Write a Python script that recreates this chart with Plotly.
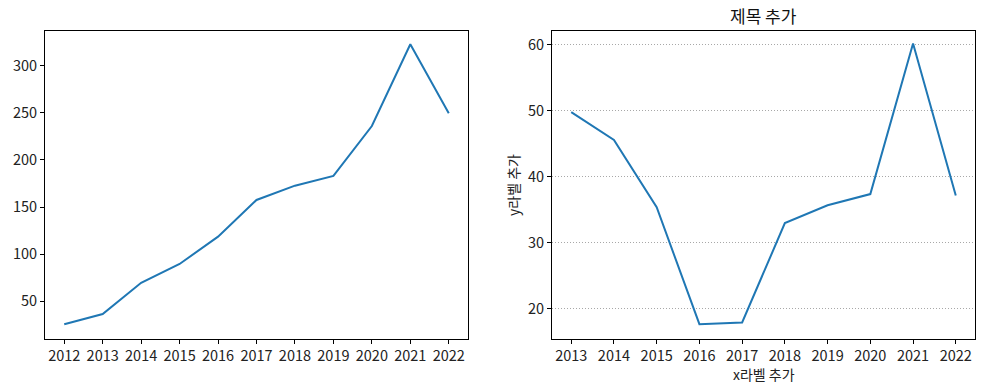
import plotly.graph_objects as go

years_left = [2012, 2013, 2014, 2015, 2016, 2017, 2018, 2019, 2020, 2021, 2022]
values_left = [25.6, 36.5, 69.7, 89.6, 118.6, 157.5, 172.7, 183.0, 236.0, 322.7, 249.5]

years_right = [2013, 2014, 2015, 2016, 2017, 2018, 2019, 2020, 2021, 2022]
values_right = [49.8, 45.6, 35.4, 17.7, 17.95, 33.0, 35.7, 37.4, 60.2, 37.2]

left_yticks = [50, 100, 150, 200, 250, 300]
right_yticks = [20, 30, 40, 50, 60]

title_text = "제목 추가"
xlabel_text = "x라벨 추가"
ylabel_text = "y라벨 추가"

FONT = "Noto Sans CJK KR"
LINE = "#1f77b4"
W, H = 984, 390
TICK_SIZE = 14.5

def px(x):
    return x / W

def py(y):
    return 1 - y / H

fig = go.Figure()
fig.add_trace(go.Scatter(x=years_left, y=values_left, mode="lines",
                         line=dict(color=LINE, width=2), xaxis="x", yaxis="y",
                         showlegend=False, hoverinfo="skip"))
fig.add_trace(go.Scatter(x=years_right, y=values_right, mode="lines",
                         line=dict(color=LINE, width=2), xaxis="x2", yaxis="y2",
                         showlegend=False, hoverinfo="skip"))

axis_common = dict(showline=True, mirror=True, linecolor="black", linewidth=1,
                   ticks="outside", ticklen=4, tickcolor="black", tickwidth=1,
                   zeroline=False, tickfont=dict(family=FONT, size=TICK_SIZE, color="#222"))

fig.update_layout(
    width=W, height=H,
    margin=dict(l=0, r=0, t=0, b=0),
    paper_bgcolor="white", plot_bgcolor="white",
    font=dict(family=FONT, size=TICK_SIZE, color="#222"),
    xaxis=dict(domain=[px(45), px(468)], anchor="y", range=[2011.5, 2022.5],
               tickvals=years_left, ticktext=[str(y) for y in years_left],
               showgrid=False, **axis_common),
    yaxis=dict(domain=[py(339), py(31)], anchor="x", range=[10.0, 336.8],
               tickvals=left_yticks, showgrid=False, **axis_common),
    xaxis2=dict(domain=[px(552), px(975)], anchor="y2", range=[2012.55, 2022.45],
                tickvals=years_right, ticktext=[str(y) for y in years_right],
                showgrid=False, **axis_common),
    yaxis2=dict(domain=[py(339), py(31)], anchor="x2", range=[15.45, 62.1],
                tickvals=right_yticks, showgrid=True, gridcolor="#a8a8a8",
                griddash="1px,2px", gridwidth=1, **axis_common),
    annotations=[
        dict(text=title_text, x=px(763.5), y=py(16), xref="paper", yref="paper",
             showarrow=False, font=dict(family=FONT, size=17, color="#111"),
             xanchor="center", yanchor="middle"),
        dict(text=xlabel_text, x=px(763.5), y=py(374), xref="paper", yref="paper",
             showarrow=False, font=dict(family=FONT, size=14, color="#222"),
             xanchor="center", yanchor="middle"),
        dict(text=ylabel_text, x=px(513), y=py(185), xref="paper", yref="paper",
             showarrow=False, textangle=-90, font=dict(family=FONT, size=14, color="#222"),
             xanchor="center", yanchor="middle"),
    ],
)

fig.write_html("out.html", config={"displayModeBar": False, "staticPlot": True},
               post_script="document.body.style.margin='0';document.body.style.overflow='hidden';")
